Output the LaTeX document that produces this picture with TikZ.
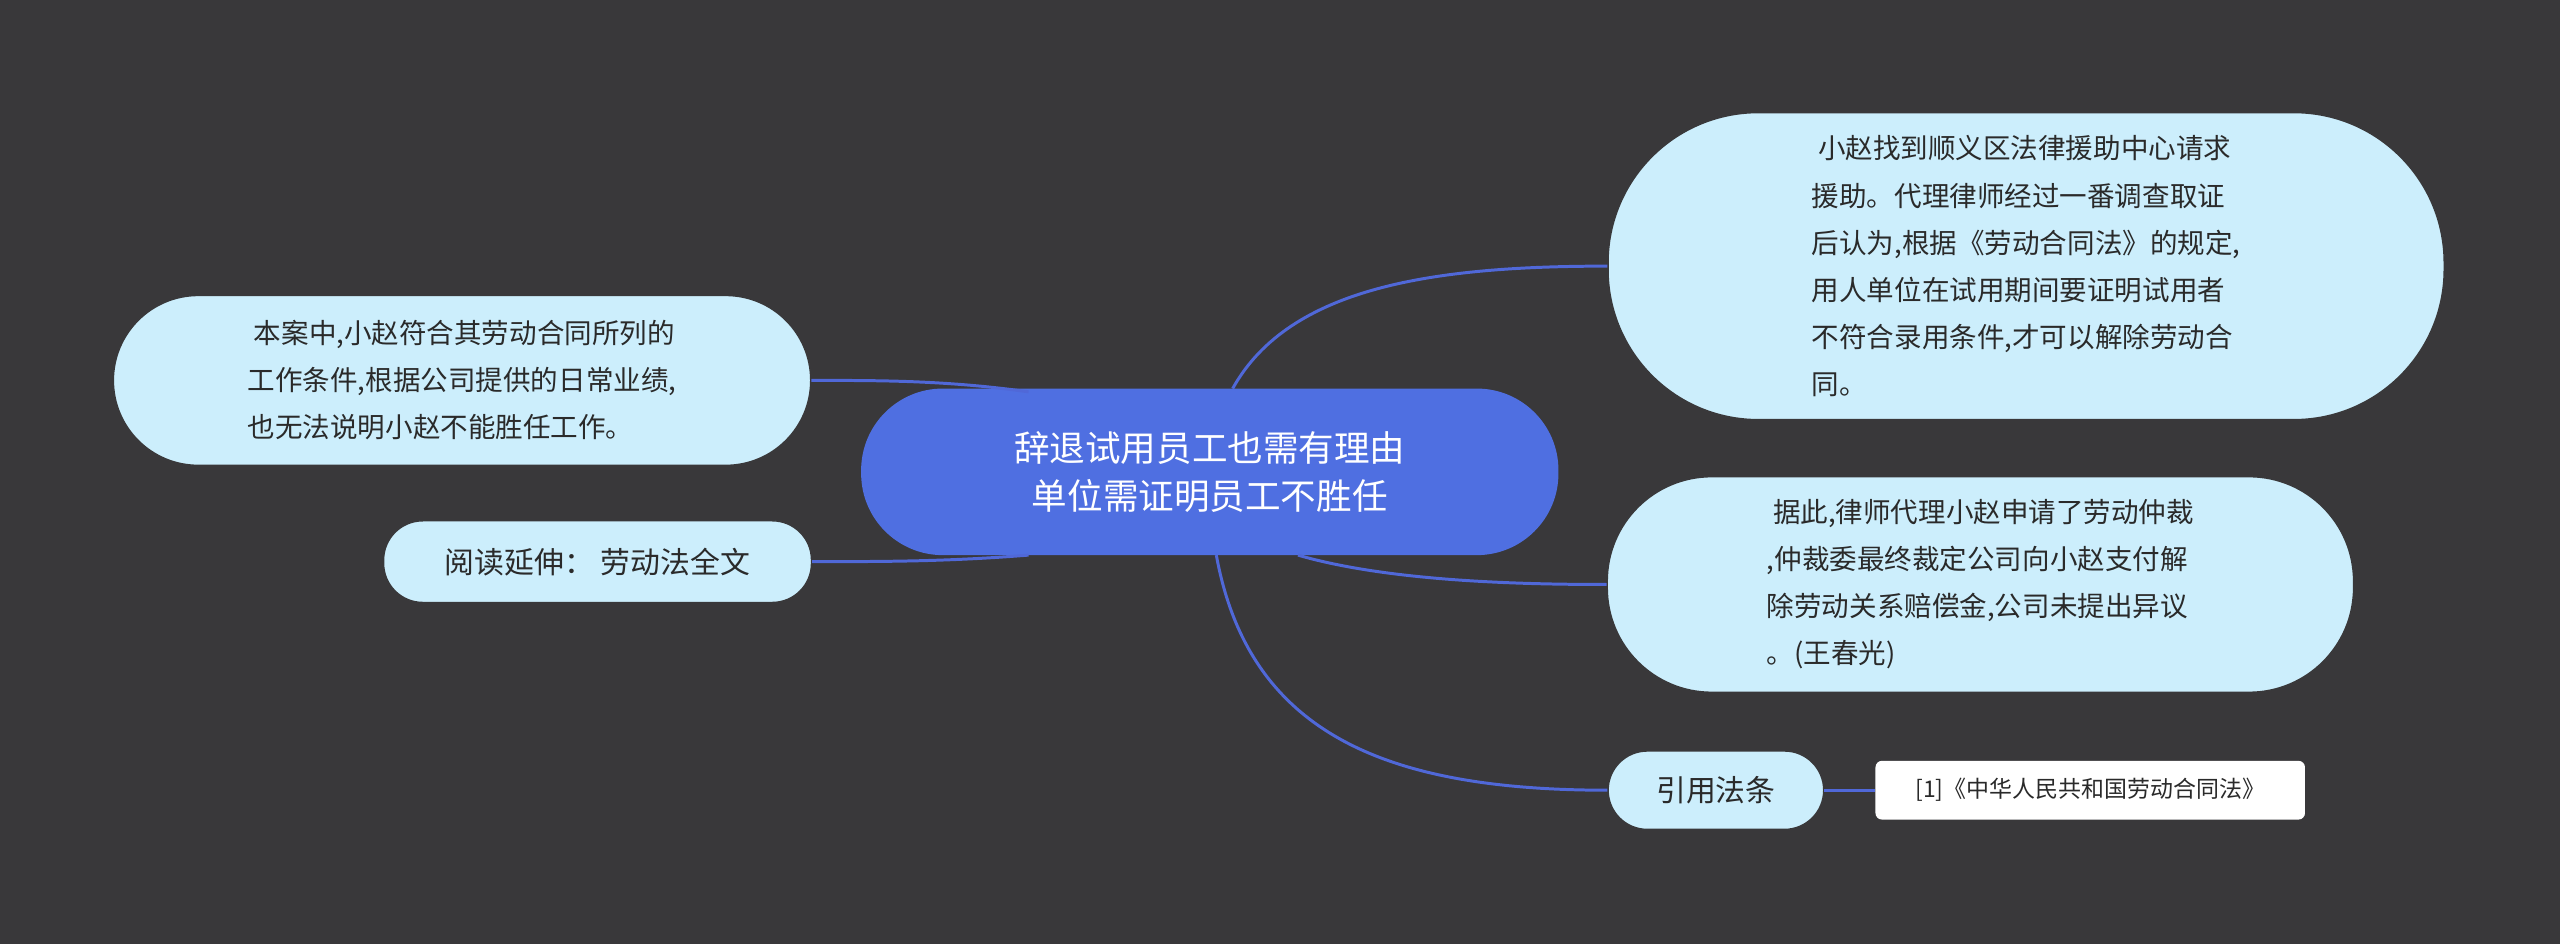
\documentclass[tikz,border=0pt]{standalone}
\usepackage{fontspec}
\setmainfont{Noto Sans CJK SC}
\usetikzlibrary{positioning}
\definecolor{bgc}{HTML}{39383A}
\definecolor{maincol}{HTML}{4F6FE1}
\definecolor{subcol}{HTML}{CCEEFC}
\definecolor{linecol}{HTML}{5068D8}
\definecolor{txtcol}{HTML}{2A2A2A}
\begin{document}
\begin{tikzpicture}[x=0.025cm, y=-0.025cm,
    topic/.style={rectangle, rounded corners=1.25cm, fill=maincol, text=white, font=\fontsize{15.5}{21}\selectfont, align=center, minimum width=10.675cm, minimum height=2.55cm, inner sep=0pt},
    leaf/.style={rectangle, draw=bgc, line width=0.6pt, fill=subcol, text=txtcol, font=\fontsize{12}{20.5}\selectfont, align=left, inner sep=0pt},
    refbox/.style={rectangle, rounded corners=0.1cm, fill=white, text=txtcol, font=\fontsize{10}{12}\selectfont, minimum width=6.575cm, minimum height=0.9cm, inner sep=0pt},
    branch/.style={draw=linecol, line width=1.3pt}
]
\fill[bgc] (0,0) rectangle (1568,578);

% === CENTRE ===
\node (root) [topic] at (741,289) {辞退试用员工也需有理由\\单位需证明员工不胜任};

% === RIGHT ===
\node (lawyer) [leaf, rounded corners=2.3cm, minimum width=12.8cm, minimum height=4.7cm] at (1241,163)
  {\ 小赵找到顺义区法律援助中心请求\\援助。代理律师经过一番调查取证\\后认为,根据《劳动合同法》的规定,\\用人单位在试用期间要证明试用者\\不符合录用条件,才可以解除劳动合\\同。};
\node (award) [leaf, rounded corners=1.6cm, minimum width=11.425cm, minimum height=3.3cm] at (1213,358)
  {\ 据此,律师代理小赵申请了劳动仲裁\\,仲裁委最终裁定公司向小赵支付解\\除劳动关系赔偿金,公司未提出异议\\。(王春光)};
\node (cite) [leaf, rounded corners=0.6cm, minimum width=3.3cm, minimum height=1.2cm, align=center, font=\fontsize{13}{16}\selectfont] at (1051,484) {引用法条};
\node (ref) [refbox, right=0.775cm of cite] {[1]《中华人民共和国劳动合同法》};

% === LEFT ===
\node (case) [leaf, rounded corners=1.3cm, minimum width=10.675cm, minimum height=2.6cm] at (283,233)
  {\ 本案中,小赵符合其劳动合同所列的\\工作条件,根据公司提供的日常业绩,\\也无法说明小赵不能胜任工作。};
\node (read) [leaf, rounded corners=0.6cm, minimum width=6.55cm, minimum height=1.25cm, align=center, font=\fontsize{13}{16}\selectfont] at (366,344) {阅读延伸：\ 劳动法全文};

% === BRANCHES ===
\draw [branch] (755,238) .. controls (790,175) and (880,163) .. (lawyer.west);
\draw [branch] (795,340) .. controls (850,356) and (930,358) .. (award.west);
\draw [branch] (745,340) .. controls (765,450) and (850,484) .. (cite.west);
\draw [branch] (cite.east) -- (ref.west);
\draw [branch] (630,240) .. controls (580,233) and (540,233) .. (case.east);
\draw [branch] (630,340) .. controls (580,344) and (540,344) .. (read.east);
\end{tikzpicture}
\end{document}
